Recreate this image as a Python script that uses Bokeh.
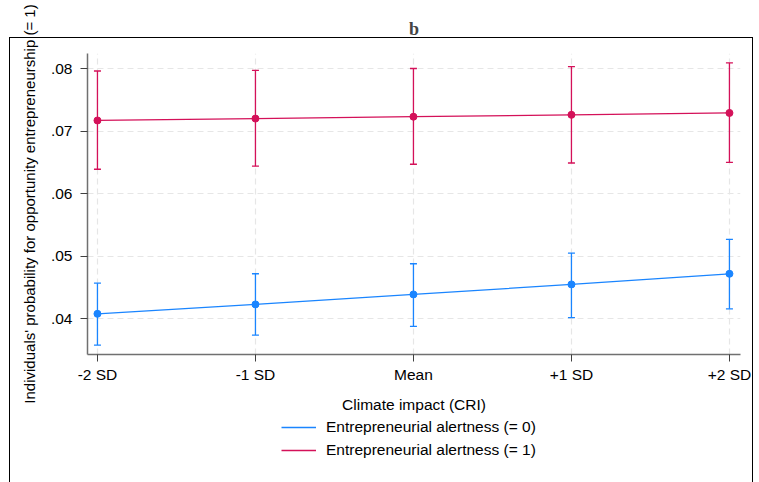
from bokeh.plotting import figure
from bokeh.layouts import column
from bokeh.models import (ColumnDataSource, Range1d, FixedTicker, CustomJSTickFormatter,
                          Whisker, TeeHead, Legend, LegendItem, InlineStyleSheet)
from bokeh.embed import file_html
from bokeh.resources import INLINE

categories = ["-2 SD", "-1 SD", "Mean", "+1 SD", "+2 SD"]
y_ticks = [0.04, 0.05, 0.06, 0.07, 0.08]

alert0_mean = [0.0408, 0.0423, 0.0439, 0.0455, 0.0472]
alert0_lower = [0.0358, 0.0374, 0.0388, 0.0402, 0.0416]
alert0_upper = [0.0457, 0.0472, 0.0488, 0.0505, 0.0527]

alert1_mean = [0.0717, 0.0720, 0.0723, 0.0726, 0.0729]
alert1_lower = [0.0639, 0.0644, 0.0647, 0.0649, 0.0650]
alert1_upper = [0.0796, 0.0797, 0.0800, 0.0803, 0.0809]

series_names = ["Entrepreneurial alertness (= 0)", "Entrepreneurial alertness (= 1)"]
colors = ["#1A85FF", "#D41159"]

FONT = "Liberation Sans"
FS = "15.5px"

p = figure(width=759, height=415, output_backend="svg", toolbar_location=None,
           x_range=Range1d(-0.063, 4.07), y_range=Range1d(0.0343, 0.0824),
           min_border_left=87, min_border_right=19, min_border_top=53, min_border_bottom=57)

p.title.text = "b"
p.title.text_font = "Liberation Serif"
p.title.text_font_size = "18px"
p.title.text_font_style = "bold"
p.title.align = "center"
p.title.standoff = 29

p.outline_line_color = None
p.background_fill_color = "white"
p.border_fill_color = "white"

xs = list(range(len(categories)))

for mean, lo, hi, col in [(alert0_mean, alert0_lower, alert0_upper, colors[0]),
                          (alert1_mean, alert1_lower, alert1_upper, colors[1])]:
    src = ColumnDataSource(dict(x=xs, y=mean, lo=lo, hi=hi))
    w = Whisker(source=src, base="x", lower="lo", upper="hi", dimension="height",
                line_color=col, line_width=1.3,
                upper_head=TeeHead(size=7, line_color=col, line_width=1.3),
                lower_head=TeeHead(size=7, line_color=col, line_width=1.3))
    p.add_layout(w)
    p.line("x", "y", source=src, line_color=col, line_width=1.3)
    p.scatter("x", "y", source=src, size=7, fill_color=col, line_color=col)

# axes
p.xaxis.ticker = FixedTicker(ticks=xs)
p.xaxis.major_label_overrides = {i: c for i, c in enumerate(categories)}
p.yaxis.ticker = FixedTicker(ticks=y_ticks)
p.yaxis.formatter = CustomJSTickFormatter(code="return tick.toFixed(2).replace(/^0/, '');")
for ax in (p.xaxis[0], p.yaxis[0]):
    ax.axis_line_color = "#707070"
    ax.axis_line_width = 1.5
    ax.major_tick_line_color = "#404040"
    ax.major_tick_out = 7
    ax.major_tick_in = 0
    ax.minor_tick_line_color = None
    ax.major_label_text_font = FONT
    ax.major_label_text_font_size = FS
    ax.major_label_text_color = "black"
    ax.axis_label_text_font = FONT
    ax.axis_label_text_font_size = FS
    ax.axis_label_text_font_style = "normal"
    ax.axis_label_text_color = "black"
p.yaxis.axis_label_text_font_size = "15px"
p.yaxis.major_label_orientation = "horizontal"
p.yaxis.major_label_standoff = 8
p.xaxis.major_label_standoff = 4
p.xaxis.axis_label = "Climate impact (CRI)"
p.yaxis.axis_label = "Individuals' probability for opportunity entrepreneurship (= 1)"
p.xaxis.axis_label_standoff = 10
p.yaxis.axis_label_standoff = 10

for g in (p.xgrid[0], p.ygrid[0]):
    g.grid_line_color = "#e6e6e6"
    g.grid_line_dash = "6 4"
    g.grid_line_width = 1.2
p.xgrid.ticker = FixedTicker(ticks=xs)
p.ygrid.ticker = FixedTicker(ticks=y_ticks)

# legend panel below the plot (its frame is aligned with the main frame by the column)
q = figure(width=759, height=67, output_backend="svg", toolbar_location=None,
           x_range=Range1d(0, 1), y_range=Range1d(0, 1),
           x_axis_location=None, y_axis_location=None,
           min_border_left=0, min_border_right=0, min_border_top=0, min_border_bottom=0)
q.grid.visible = False
q.outline_line_color = None
q.background_fill_color = "white"
q.border_fill_color = "white"

items = []
for col, name in zip(colors, series_names):
    r = q.line(x=[-10, -9], y=[-10, -10], line_color=col, line_width=1.5)
    items.append(LegendItem(label=name, renderers=[r]))

legend = Legend(items=items, location=(194, 22), orientation="vertical",
                label_text_font=FONT, label_text_font_size=FS, label_text_color="black",
                glyph_width=35, glyph_height=20, label_standoff=10, spacing=3,
                border_line_color=None, background_fill_alpha=0, padding=2, margin=0)
q.add_layout(legend)

box_css = InlineStyleSheet(css="""
:host { position: relative; }
:host::after {
  content: ""; position: absolute; left: 9px; top: 37px; width: 744px; height: 470px;
  border: 1px solid #000; pointer-events: none; box-sizing: border-box;
}
""")

layout = column(p, q, spacing=0, stylesheets=[box_css])

open("out.html", "w").write(file_html(layout, INLINE))
